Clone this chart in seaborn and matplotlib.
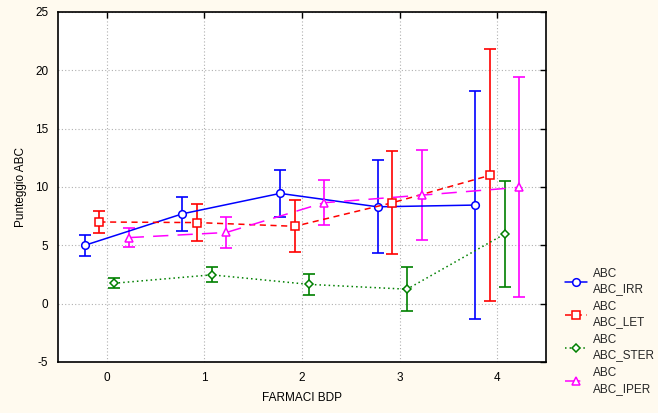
import numpy as np
import pandas as pd
import matplotlib
matplotlib.use("Agg")
import matplotlib.pyplot as plt
import seaborn as sns

# data
farmaci = [0, 1, 2, 3, 4]
groups = ["ABC\nABC_IRR", "ABC\nABC_LET", "ABC\nABC_STER", "ABC\nABC_IPER"]
irr_mean = [5.0, 7.7, 9.45, 8.3, 8.45]
irr_err = [0.9, 1.45, 2.0, 4.0, 9.8]
let_mean = [7.0, 6.95, 6.63, 8.65, 11.0]
let_err = [0.95, 1.57, 2.23, 4.4, 10.8]
ster_mean = [1.75, 2.47, 1.65, 1.24, 5.97]
ster_err = [0.43, 0.64, 0.92, 1.88, 4.57]
iper_mean = [5.66, 6.1, 8.65, 9.3, 9.97]
iper_err = [0.8, 1.35, 1.93, 3.85, 9.43]

means = [irr_mean, let_mean, ster_mean, iper_mean]
errs = [irr_err, let_err, ster_err, iper_err]
offsets = [-0.225, -0.075, 0.075, 0.225]
colors = ["#0000ff", "#ff0000", "#008000", "#ff00ff"]
markers = ["o", "s", "D", "^"]
msizes = [5.5, 6, 4.5, 5.5]
dashes = [(None, None), (4, 3), (1, 2), (10, 6)]

rows = []
for g, m, e, off in zip(groups, means, errs, offsets):
    for x, mv, ev in zip(farmaci, m, e):
        rows.append({"group": g, "x": x + off, "mean": mv, "err": ev})
df = pd.DataFrame(rows)

sns.set_theme(style="white")
plt.rcParams["font.family"] = ["Liberation Sans", "DejaVu Sans"]
plt.rcParams["axes.unicode_minus"] = False
bg = "#fffaef"

fig = plt.figure(figsize=(6.58, 4.13), dpi=100, facecolor=bg)
ax = fig.add_axes([0.088, 0.1235, 0.742, 0.8475])
ax.set_facecolor("white")

for i, g in enumerate(groups):
    sub = df[df["group"] == g]
    ls = "-" if i == 0 else (0, dashes[i])
    ax.errorbar(sub["x"], sub["mean"], yerr=sub["err"], fmt="none",
                ecolor=colors[i], elinewidth=1.2, capsize=4, capthick=1.2, zorder=2)
    sns.lineplot(data=sub, x="x", y="mean", ax=ax, color=colors[i], lw=1.1,
                 linestyle=ls, marker=markers[i], markersize=msizes[i],
                 markerfacecolor="white", markeredgecolor=colors[i],
                 markeredgewidth=1.1, label=g, errorbar=None, zorder=3)

ax.set_xlim(-0.5, 4.5)
ax.set_ylim(-5, 25)
ax.set_xticks(farmaci)
ax.set_yticks(np.arange(-5, 26, 5))
ax.grid(True, color="#b0b0b0", linestyle=(0, (1, 2)), linewidth=0.8)
ax.tick_params(axis="both", direction="in", length=4, width=1, labelsize=8.5,
               top=True, right=True, color="black", labelcolor="black")
ax.tick_params(axis="x", pad=7)
ax.tick_params(axis="y", pad=7)
for s in ax.spines.values():
    s.set_color("black")
    s.set_linewidth(1.2)

ax.set_xlabel("FARMACI BDP", fontsize=8.5, color="black", labelpad=6)
ax.set_ylabel("Punteggio ABC", fontsize=8.5, color="black", labelpad=6)

leg = ax.legend(loc="upper left", bbox_to_anchor=(0.842, 0.378),
                bbox_transform=fig.transFigure, frameon=False, fontsize=8.5,
                handlelength=1.9, handletextpad=0.5, labelspacing=0.42)
for t in leg.get_texts():
    t.set_linespacing(1.45)

fig.savefig("out.png", dpi=100, facecolor=bg)
